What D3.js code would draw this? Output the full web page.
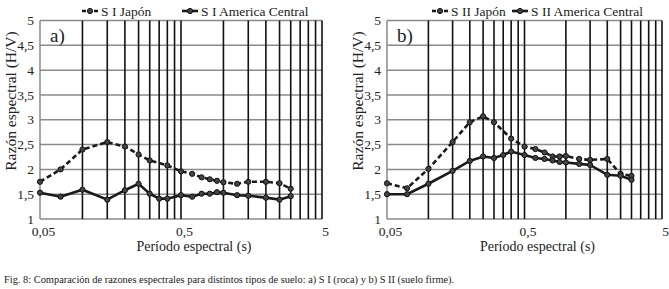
<!DOCTYPE html>
<html>
<head>
<meta charset="utf-8">
<script src="https://cdn.jsdelivr.net/npm/d3@7"></script>
<style>
  body { margin: 0; background: #fff; }
</style>
</head>
<body>
<div id="chart"></div>
<script>
// datos
const periodosJapon = [0.05, 0.07, 0.1, 0.15, 0.2, 0.25, 0.3, 0.4, 0.5, 0.6, 0.7, 0.8, 0.9, 1.0, 1.25, 1.5, 2, 2.5, 3];
const periodosAmerica = [0.05, 0.07, 0.1, 0.15, 0.2, 0.25, 0.3, 0.35, 0.4, 0.5, 0.6, 0.7, 0.8, 0.9, 1.0, 1.25, 1.5, 2, 2.5, 3];

const sIJapon = [1.75, 2.0, 2.40, 2.55, 2.46, 2.30, 2.18, 2.08, 1.96, 1.91, 1.84, 1.80, 1.77, 1.74, 1.71, 1.75, 1.75, 1.72, 1.61];
const sIAmerica = [1.53, 1.45, 1.59, 1.39, 1.58, 1.71, 1.51, 1.41, 1.41, 1.48, 1.45, 1.51, 1.51, 1.54, 1.53, 1.48, 1.47, 1.43, 1.39, 1.46];
const sIIJapon = [1.72, 1.62, 2.01, 2.55, 2.95, 3.07, 2.95, 2.62, 2.46, 2.41, 2.34, 2.26, 2.26, 2.27, 2.21, 2.19, 2.21, 1.91, 1.87];
const sIIAmerica = [1.50, 1.50, 1.71, 1.97, 2.17, 2.26, 2.23, 2.29, 2.36, 2.29, 2.23, 2.21, 2.18, 2.15, 2.14, 2.11, 2.09, 1.89, 1.87, 1.79];

const xTicks = [0.05, 0.5, 5];
const yTicks = [1, 1.5, 2, 2.5, 3, 3.5, 4, 4.5, 5];
const caption = "Fig. 8: Comparación de razones espectrales para distintos tipos de suelo: a) S I (roca) y b) S II (suelo firme).";

const FONT = '"Liberation Serif", "DejaVu Serif", "Times New Roman", serif';
const W = 669, H = 289;
const svg = d3.select("#chart").append("svg")
  .attr("width", W).attr("height", H);

const fmt = v => String(v).replace(".", ",");

// lineas verticales de la rejilla (minor de excel en escala log)
const gridX = [];
[0.05, 0.5].forEach(b => { for (let k = 2; k <= 10; k++) gridX.push(b * k); });

function panel(opts) {
  const x = d3.scaleLog().domain([0.05, 5]).range([opts.x0, opts.x1]);
  const y = d3.scaleLinear().domain([1, 5]).range([219, 20.5]);
  const g = svg.append("g");

  // rejilla horizontal
  g.selectAll(".hg").data(yTicks).enter().append("line")
    .attr("x1", opts.x0).attr("x2", opts.x1)
    .attr("y1", d => y(d)).attr("y2", d => y(d))
    .attr("stroke", "#8a8a8a").attr("stroke-width", 1.5);

  // rejilla vertical
  g.selectAll(".vg").data(gridX.filter(d => d <= 5.0001)).enter().append("line")
    .attr("x1", d => x(d)).attr("x2", d => x(d))
    .attr("y1", y(5)).attr("y2", y(1))
    .attr("stroke", "#111").attr("stroke-width", 1.6);

  // eje izquierdo
  g.append("line")
    .attr("x1", opts.x0).attr("x2", opts.x0)
    .attr("y1", y(5)).attr("y2", y(1))
    .attr("stroke", "#8a8a8a").attr("stroke-width", 1.5);

  // ejes con d3 (solo etiquetas)
  const ax = g.append("g").attr("transform", `translate(0,${y(1)})`)
    .call(d3.axisBottom(x).tickValues(xTicks).tickFormat(fmt).tickSize(0).tickPadding(7));
  ax.select(".domain").remove();
  ax.selectAll("text").style("font-family", FONT).style("font-size", "13.5px").attr("fill", "#222")
    .attr("dx", 3);

  const ay = g.append("g").attr("transform", `translate(${opts.x0},0)`)
    .call(d3.axisLeft(y).tickValues(yTicks).tickFormat(fmt).tickSize(0).tickPadding(6));
  ay.select(".domain").remove();
  ay.selectAll("text").style("font-family", FONT).style("font-size", "13.5px").attr("fill", "#222")
    .attr("dy", "0.3em");

  // series
  const line = d3.line().x(d => x(d[0])).y(d => y(d[1]));
  const series = [
    { per: periodosJapon, val: opts.japon, dash: "5,3" },
    { per: periodosAmerica, val: opts.america, dash: null }
  ];
  series.forEach(s => {
    const pts = s.per.map((p, i) => [p, s.val[i]]);
    g.append("path").datum(pts)
      .attr("fill", "none").attr("stroke", "#1a1a1a")
      .attr("stroke-width", 2.6)
      .attr("stroke-dasharray", s.dash)
      .attr("d", line);
    g.selectAll(null).data(pts).enter().append("circle")
      .attr("cx", d => x(d[0])).attr("cy", d => y(d[1]))
      .attr("r", 2.6)
      .attr("fill", "#444").attr("stroke", "#111").attr("stroke-width", 1);
  });

  // etiqueta a) / b)
  g.append("text").attr("x", opts.x0 + 10).attr("y", 42)
    .style("font-family", FONT).style("font-size", "19px").attr("fill", "#222")
    .text(opts.label);

  // titulos de ejes
  g.append("text").attr("text-anchor", "middle")
    .attr("x", (opts.x0 + opts.x1) / 2 + 13).attr("y", 251)
    .style("font-family", FONT).style("font-size", "14px").attr("fill", "#222")
    .text("Período espectral (s)");

  g.append("text").attr("text-anchor", "middle")
    .attr("transform", `translate(${opts.x0 - 24},101) rotate(-90)`)
    .style("font-family", FONT).style("font-size", "15.5px").attr("fill", "#222")
    .text("Razón espectral (H/V)");

  // leyenda
  const leg = [
    { x: opts.legX[0], name: opts.names[0], dash: "4,2" },
    { x: opts.legX[1], name: opts.names[1], dash: null }
  ];
  leg.forEach(l => {
    g.append("line").attr("x1", l.x).attr("x2", l.x + 16)
      .attr("y1", 11).attr("y2", 11)
      .attr("stroke", "#1a1a1a").attr("stroke-width", 2.6)
      .attr("stroke-dasharray", l.dash);
    g.append("circle").attr("cx", l.x + 8).attr("cy", 11).attr("r", 2.6)
      .attr("fill", "#444").attr("stroke", "#111");
    g.append("text").attr("x", l.x + 19).attr("y", 15.5)
      .style("font-family", FONT).style("font-size", "13.5px").attr("fill", "#222")
      .text(l.name);
  });
}

panel({ x0: 40, x1: 322, japon: sIJapon, america: sIAmerica, label: "a)",
  legX: [82, 182], names: ["S I Japón", "S I America Central"] });
panel({ x0: 387, x1: 662, japon: sIIJapon, america: sIIAmerica, label: "b)",
  legX: [432, 512], names: ["S II Japón", "S II America Central"] });

svg.append("text").attr("x", 4).attr("y", 283)
  .style("font-family", FONT).style("font-size", "10.4px").attr("fill", "#222")
  .text(caption);
</script>
</body>
</html>
